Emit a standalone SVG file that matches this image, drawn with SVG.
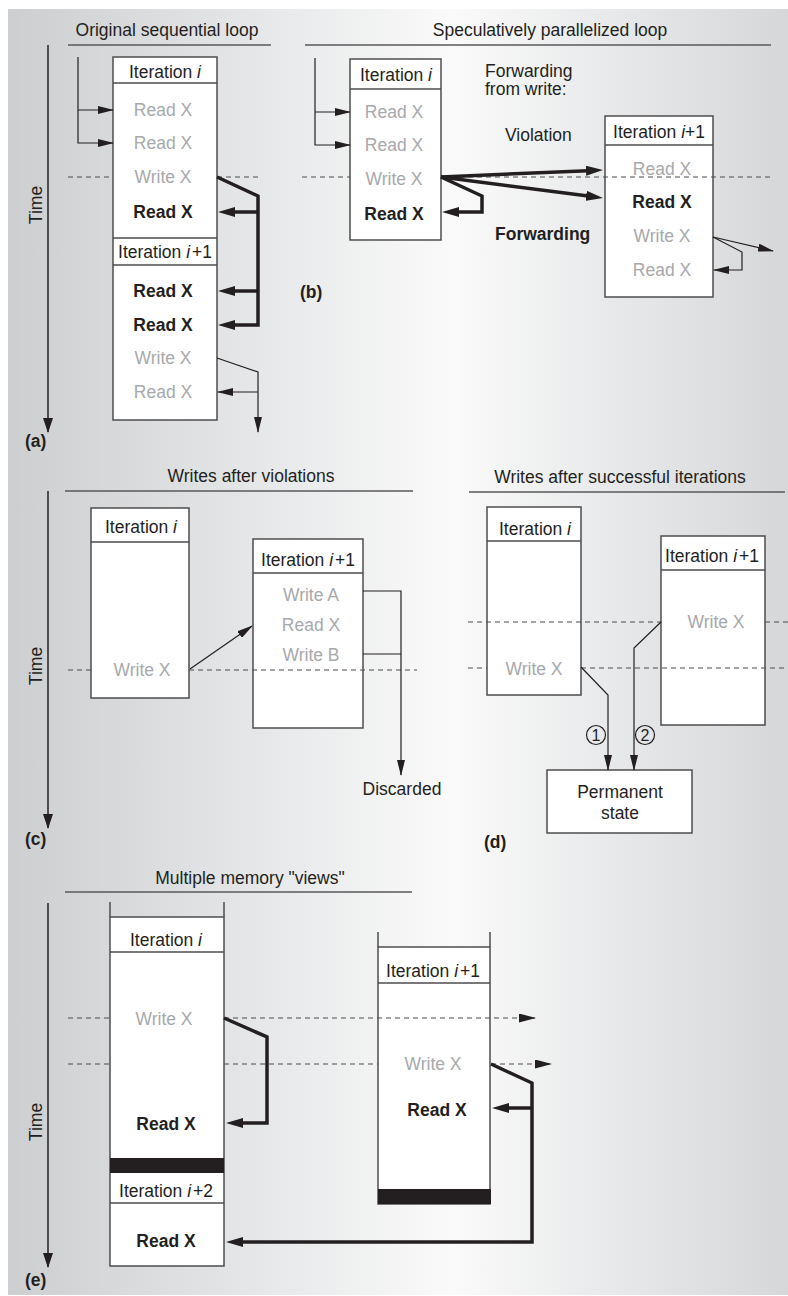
<svg xmlns="http://www.w3.org/2000/svg" width="788" height="1296" viewBox="0 0 788 1296">
<defs>
<linearGradient id="bg" x1="0" y1="0" x2="1" y2="0">
<stop offset="0" stop-color="#cdced0"/>
<stop offset="0.36" stop-color="#e9eaeb"/>
<stop offset="0.57" stop-color="#fafafa"/>
<stop offset="0.76" stop-color="#e9eaeb"/>
<stop offset="1" stop-color="#d6d7d9"/>
</linearGradient>
<marker id="ah" viewBox="0 0 16 8" refX="15" refY="4" markerWidth="16" markerHeight="8" markerUnits="userSpaceOnUse" orient="auto"><path d="M0,0 L16,4 L0,8 z" fill="#231f20"/></marker>
<marker id="ahT" viewBox="0 0 17 10" refX="8" refY="5" markerWidth="17" markerHeight="10" markerUnits="userSpaceOnUse" orient="auto"><path d="M0,0 L17,5 L0,10 z" fill="#231f20"/></marker>
<marker id="ahA" viewBox="0 0 15 10" refX="14" refY="5" markerWidth="15" markerHeight="10" markerUnits="userSpaceOnUse" orient="auto"><path d="M0,0 L15,5 L0,10 z" fill="#231f20"/></marker>
<marker id="ahD" viewBox="0 0 17 9" refX="16" refY="4.5" markerWidth="17" markerHeight="9" markerUnits="userSpaceOnUse" orient="auto"><path d="M0,0 L17,4.5 L0,9 z" fill="#231f20"/></marker>
</defs>
<style>
.t{font-family:"Liberation Sans",Arial,Helvetica,sans-serif;font-size:17.5px;fill:#231f20}
.g{fill:#a7a9ac}
.b{font-weight:bold}
.m{text-anchor:middle}
.i{font-style:italic}
.box{fill:#ffffff;stroke:#4d4d4f;stroke-width:1.5}
.ln{stroke:#4d4d4f;stroke-width:1.5;fill:none}
.ul{stroke:#58595b;stroke-width:1.3}
.ax{stroke:#231f20;stroke-width:1.5;fill:none}
.dash{stroke:#4d4d4f;stroke-width:1.2;stroke-dasharray:5 4;fill:none}
.thin{stroke:#231f20;stroke-width:1.2;fill:none}
.thick{stroke:#231f20;stroke-width:3.5;fill:none;stroke-linejoin:miter}
.bar{fill:#231f20}
.circ{fill:none;stroke:#231f20;stroke-width:1.2}
.num{font-family:"Liberation Sans",Arial,Helvetica,sans-serif;font-size:16px;fill:#231f20;text-anchor:middle}
</style>
<rect x="8" y="9" width="780" height="1286" fill="url(#bg)"/>

<g id="panel-a-frame">
<text class="t m" x="167" y="36">Original sequential loop</text>
<line class="ul" x1="68" y1="45" x2="271" y2="45"/>
<line class="ax" x1="48" y1="45" x2="48" y2="432" marker-end="url(#ahA)"/>
<text class="t m" transform="translate(42,205) rotate(-90)">Time</text>
<text class="t b" x="25" y="447">(a)</text>
</g>
<g id="a-loop">
<rect class="box" x="113" y="57" width="104" height="363"/>
<line class="ln" x1="113" y1="83" x2="217" y2="83"/>
<line class="ln" x1="113" y1="238" x2="217" y2="238"/>
<line class="ln" x1="113" y1="265" x2="217" y2="265"/>
<text class="t m" x="165" y="78">Iteration <tspan class="i">i</tspan></text>
<text class="t m g" x="163" y="116">Read X</text>
<text class="t m g" x="163" y="149">Read X</text>
<text class="t m g" x="163" y="183">Write X</text>
<text class="t m b" x="163" y="218">Read X</text>
<text class="t m" x="165" y="258">Iteration <tspan class="i">i</tspan><tspan dx="2">+1</tspan></text>
<text class="t m b" x="163" y="297">Read X</text>
<text class="t m b" x="163" y="331">Read X</text>
<text class="t m g" x="163" y="364">Write X</text>
<text class="t m g" x="163" y="398">Read X</text>
</g>

<g id="panel-b-frame">
<text class="t m" x="550" y="36">Speculatively parallelized loop</text>
<line class="ul" x1="305" y1="45" x2="771" y2="45"/>
<text class="t" x="485" y="77">Forwarding</text>
<text class="t" x="485" y="95">from write:</text>
<text class="t" x="505" y="141">Violation</text>
<text class="t b" x="495" y="240">Forwarding</text>
<text class="t b" x="300" y="298">(b)</text>
</g>
<g id="b-iter-i">
<rect class="box" x="350" y="59" width="91" height="181"/>
<line class="ln" x1="350" y1="89" x2="441" y2="89"/>
<text class="t m" x="396" y="81">Iteration <tspan class="i">i</tspan></text>
<text class="t m g" x="394" y="118">Read X</text>
<text class="t m g" x="394" y="151">Read X</text>
<text class="t m g" x="394" y="185">Write X</text>
<text class="t m b" x="394" y="220">Read X</text>
</g>
<g id="b-iter-i1">
<rect class="box" x="605" y="116" width="108" height="181"/>
<line class="ln" x1="605" y1="145" x2="713" y2="145"/>
<text class="t m" x="659" y="138">Iteration <tspan class="i">i</tspan>+1</text>
<text class="t m g" x="662" y="175">Read X</text>
<text class="t m b" x="662" y="208">Read X</text>
<text class="t m g" x="662" y="242">Write X</text>
<text class="t m g" x="662" y="276">Read X</text>
</g>

<g id="panel-c-frame">
<text class="t m" x="251" y="482">Writes after violations</text>
<line class="ul" x1="65" y1="491" x2="413" y2="491"/>
<line class="ax" x1="48" y1="491" x2="48" y2="828" marker-end="url(#ahA)"/>
<text class="t m" transform="translate(42,666) rotate(-90)">Time</text>
<text class="t b" x="25" y="845">(c)</text>
<text class="t m" x="402" y="795">Discarded</text>
</g>
<g id="c-iter-i">
<rect class="box" x="91" y="508" width="98" height="190"/>
<line class="ln" x1="91" y1="542" x2="189" y2="542"/>
<text class="t m" x="141" y="533">Iteration <tspan class="i">i</tspan></text>
<text class="t m g" x="142" y="676">Write X</text>
</g>
<g id="c-iter-i1">
<rect class="box" x="253" y="539" width="110" height="189"/>
<line class="ln" x1="253" y1="573" x2="363" y2="573"/>
<text class="t m" x="308" y="566">Iteration <tspan class="i">i</tspan><tspan dx="2">+1</tspan></text>
<text class="t m g" x="311" y="601">Write A</text>
<text class="t m g" x="311" y="631">Read X</text>
<text class="t m g" x="311" y="661">Write B</text>
</g>

<g id="panel-d-frame">
<text class="t m" x="620" y="483">Writes after successful iterations</text>
<line class="ul" x1="469" y1="492" x2="785" y2="492"/>
<text class="t b" x="484" y="848">(d)</text>
</g>
<g id="d-iter-i">
<rect class="box" x="487" y="507" width="94" height="188"/>
<line class="ln" x1="487" y1="541" x2="581" y2="541"/>
<text class="t m" x="535" y="535">Iteration <tspan class="i">i</tspan></text>
<text class="t m g" x="534" y="675">Write X</text>
</g>
<g id="d-iter-i1">
<rect class="box" x="661" y="536" width="104" height="189"/>
<line class="ln" x1="661" y1="570" x2="765" y2="570"/>
<text class="t m" x="712" y="562">Iteration <tspan class="i">i</tspan><tspan dx="2">+1</tspan></text>
<text class="t m g" x="716" y="628">Write X</text>
</g>
<g id="d-permanent">
<rect class="box" x="547" y="770" width="145" height="63"/>
<text class="t m" x="620" y="798">Permanent</text>
<text class="t m" x="620" y="819">state</text>
</g>
<g id="d-step1">
<circle class="circ" cx="596" cy="735" r="9.5"/>
<text class="num" x="596" y="741">1</text>
</g>
<g id="d-step2">
<circle class="circ" cx="645" cy="735" r="9.5"/>
<text class="num" x="645" y="741">2</text>
</g>

<g id="panel-e-frame">
<text class="t m" x="250" y="884">Multiple memory "views"</text>
<line class="ul" x1="65" y1="892" x2="412" y2="892"/>
<line class="ax" x1="48" y1="903" x2="48" y2="1267" marker-end="url(#ahA)"/>
<text class="t m" transform="translate(42,1122) rotate(-90)">Time</text>
<text class="t b" x="25" y="1286">(e)</text>
</g>
<g id="e-dash-under">
<line class="dash" x1="68" y1="1018" x2="110" y2="1018"/>
<line class="dash" x1="68" y1="1064" x2="110" y2="1064"/>
<line class="dash" x1="224" y1="1064" x2="378" y2="1064"/>
</g>
<g id="e-iter-i">
<line class="ln" x1="110" y1="902" x2="110" y2="917"/>
<line class="ln" x1="224" y1="902" x2="224" y2="917"/>
<rect class="box" x="110" y="917" width="114" height="349"/>
<line class="ln" x1="110" y1="952" x2="224" y2="952"/>
<rect class="bar" x="110" y="1158" width="114" height="15"/>
<line class="ln" x1="110" y1="1203" x2="224" y2="1203"/>
<text class="t m" x="166" y="946">Iteration <tspan class="i">i</tspan></text>
<text class="t m g" x="164" y="1025">Write X</text>
<text class="t m b" x="166" y="1130">Read X</text>
<text class="t m" x="166" y="1197">Iteration <tspan class="i">i</tspan><tspan dx="2">+2</tspan></text>
<text class="t m b" x="166" y="1247">Read X</text>
</g>
<g id="e-iter-i1">
<line class="ln" x1="378" y1="932" x2="378" y2="947"/>
<line class="ln" x1="490" y1="932" x2="490" y2="947"/>
<rect class="box" x="378" y="947" width="112" height="257"/>
<line class="ln" x1="378" y1="983" x2="490" y2="983"/>
<rect class="bar" x="378" y="1189" width="113" height="15"/>
<text class="t m" x="433" y="977">Iteration <tspan class="i">i</tspan><tspan dx="2">+1</tspan></text>
<text class="t m g" x="433" y="1070">Write X</text>
<text class="t m b" x="437" y="1116">Read X</text>
</g>

<g id="connectors">
<line class="dash" x1="68" y1="177" x2="113" y2="177"/>
<line class="dash" x1="217" y1="177" x2="258" y2="177"/>
<path class="thin" d="M78,57 L78,143 L113,143" marker-end="url(#ah)"/>
<path class="thin" d="M78,110 L113,110" marker-end="url(#ah)"/>
<path class="thick" d="M217,177 L258,196 L258,325 L227,325" marker-end="url(#ahT)"/>
<path class="thick" d="M258,212 L227,212" marker-end="url(#ahT)"/>
<path class="thick" d="M258,291 L227,291" marker-end="url(#ahT)"/>
<path class="thin" d="M217,358 L258,372 L258,432" marker-end="url(#ah)"/>
<path class="thin" d="M258,392 L218,392" marker-end="url(#ah)"/>
<line class="dash" x1="302" y1="177" x2="350" y2="177"/>
<line class="dash" x1="441" y1="177" x2="773" y2="177"/>
<path class="thin" d="M315,58 L315,145 L350,145" marker-end="url(#ah)"/>
<path class="thin" d="M315,112 L350,112" marker-end="url(#ah)"/>
<path class="thick" d="M441,177 L594,170.4" marker-end="url(#ahT)"/>
<path class="thick" d="M441,177 L594.1,196.8" marker-end="url(#ahT)"/>
<path class="thick" d="M441,177 L482,196 L482,212 L451,212" marker-end="url(#ahT)"/>
<path class="thin" d="M713,237 L773,251" marker-end="url(#ah)"/>
<path class="thin" d="M713,237 L742,252 L742,270 L714,270" marker-end="url(#ah)"/>
<line class="dash" x1="68" y1="670" x2="91" y2="670"/>
<line class="dash" x1="189" y1="670" x2="417" y2="670"/>
<path class="thin" d="M190,669 L252,626" marker-end="url(#ah)"/>
<path class="thin" d="M363,591 L401,591 L401,775" marker-end="url(#ah)"/>
<path class="thin" d="M363,654 L401,654"/>
<line class="dash" x1="468" y1="622" x2="661" y2="622"/>
<line class="dash" x1="765" y1="622" x2="788" y2="622"/>
<line class="dash" x1="468" y1="668" x2="487" y2="668"/>
<line class="dash" x1="581" y1="668" x2="788" y2="668"/>
<path class="thin" d="M581,667 L608,695 L608,770" marker-end="url(#ah)"/>
<path class="thin" d="M661,622 L634,648 L634,770" marker-end="url(#ah)"/>
<path class="dash" d="M224,1018 L535,1018" marker-end="url(#ahD)"/>
<path class="dash" d="M491,1064 L551,1064" marker-end="url(#ahD)"/>
<path class="thick" d="M224,1018 L267,1037 L267,1123 L235,1123" marker-end="url(#ahT)"/>
<path class="thick" d="M491,1064 L532,1083 L532,1242 L235,1242" marker-end="url(#ahT)"/>
<path class="thick" d="M532,1108 L501,1108" marker-end="url(#ahT)"/>
</g>
</svg>
